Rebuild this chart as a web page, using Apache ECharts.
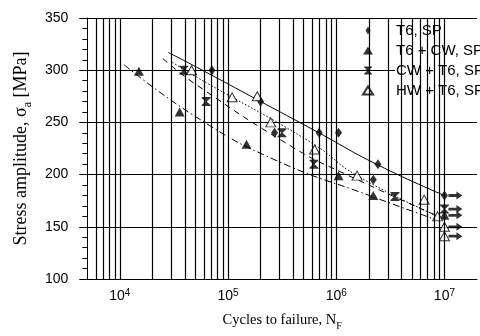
<!DOCTYPE html>
<html>
<head>
<meta charset="utf-8">
<script src="https://cdn.jsdelivr.net/npm/echarts@6/dist/echarts.min.js"></script>
<style>
  html, body { margin: 0; padding: 0; background: #fff; }
  #chart { width: 480px; height: 336px; }
</style>
</head>
<body>
<div id="chart"></div>
<script>
// measured points [cycles, stress MPa]
var t6sp = [[7.1e4, 300], [2.0e5, 270], [2.69e5, 240], [6.95e5, 240], [1.05e6, 240], [2.2e6, 195], [2.43e6, 210], [1e7, 180]];
var t6cw = [[1.5e4, 299], [3.57e4, 260], [1.48e5, 229], [1.05e6, 199], [2.2e6, 180], [1e7, 161]];
var cwt6 = [[3.9e4, 300], [6.27e4, 270], [3.15e5, 240], [6.22e5, 210], [3.49e6, 179], [1e7, 167]];
var hwt6 = [[4.6e4, 300], [1.09e5, 274], [1.86e5, 275], [2.48e5, 250], [6.31e5, 224], [1.56e6, 199], [6.5e6, 176], [8.65e6, 160], [1e7, 150], [1e7, 141]];
// run-outs (arrows)
var runouts = [[1e7, 180], [1e7, 167], [1e7, 161], [1e7, 150], [1e7, 141]];

// fitted curves
var fitT6sp = [[2.8e4, 317], [5.1e4, 303], [2.0e5, 270], [6.0e5, 243.5], [2.45e6, 209], [1e7, 180]];
var fitT6cw = [[1.1e4, 305], [5.1e4, 255], [2.66e5, 214.5], [2.07e6, 179.6], [8.8e6, 156]];
var fitCwt6 = [[2.5e4, 311], [5.1e4, 286], [4.0e5, 226], [1.13e6, 202], [8.8e6, 160]];
var fitHwt6 = [[3.05e4, 307.6], [5.1e4, 293.5], [6.0e5, 230], [1.56e6, 199], [8.7e6, 160]];

var names = ['T6, SP', 'T6 + CW, SP', 'CW + T6, SP', 'HW + T6, SP'];

// log grid lines (1..9 of every decade)
var decades = [1e3, 1e4, 1e5, 1e6, 1e7];
var mults = [1, 2, 3, 4, 5, 6, 7, 8, 9];
var xGrid = [];
decades.forEach(function (d) {
  mults.forEach(function (m) {
    var v = d * m;
    if (v > 5000 && v < 2e7) xGrid.push(v);
  });
});

var hourglass = 'path://M0,0L10,0L10,1L5.7,5L10,9L10,10L0,10L0,9L4.3,5L0,1Z';
var diamond = 'path://M3,0L6,5L3,10L0,5Z';
var arrow = 'path://M0,2.6L8,2.6L8,0L14,4L8,8L8,5.4L0,5.4Z';

var sans = 'Liberation Sans, Arial, sans-serif';
var serif = 'Liberation Serif, Times New Roman, serif';

var chart = echarts.init(document.getElementById('chart'));

function fitLine(data, type) {
  return {
    type: 'line', data: data, smooth: true, symbol: 'none', silent: true,
    lineStyle: { color: '#000', width: 1, type: type }, z: 3
  };
}

var option = {
  animation: false,
  backgroundColor: '#fff',
  grid: { left: 87.3, top: 18, width: 402.4, height: 267 },
  legend: {
    orient: 'vertical', left: 357, top: 18,
    itemWidth: 10, itemHeight: 8, itemGap: 5,
    symbolKeepAspect: true,
    data: [
      { name: names[0], icon: diamond },
      { name: names[1], icon: 'triangle' },
      { name: names[2], icon: hourglass },
      { name: names[3], icon: 'triangle' }
    ],
    formatter: function (n) { return '{g| }{t|' + n + '}'; },
    textStyle: {
      rich: {
        g: { width: 17, fontSize: 15 },
        t: { fontFamily: sans, fontSize: 15, color: '#000', backgroundColor: '#fff', lineHeight: 17, padding: [0, 40, 0, 1] }
      }
    }
  },
  xAxis: {
    type: 'log', logBase: 10, min: 5000, max: 2e7,
    name: '{n|Cycles to failure, N}{s|F}',
    nameLocation: 'middle', nameGap: 34,
    nameTextStyle: {
      rich: {
        n: { fontFamily: serif, fontSize: 14.5, color: '#000' },
        s: { fontFamily: serif, fontSize: 10, color: '#000', verticalAlign: 'bottom', padding: [0, 0, -3, 0] }
      }
    },
    axisLine: { lineStyle: { color: '#000', width: 1 } },
    axisTick: { show: false },
    splitLine: { show: false },
    axisLabel: {
      margin: 9,
      formatter: function (v) {
        var e = Math.log10(v), r = Math.round(e);
        if (Math.abs(e - r) > 1e-6 || r < 4 || r > 7) return '';
        return '{b|10}{s|' + r + '}';
      },
      rich: {
        b: { fontFamily: sans, fontSize: 14, color: '#000' },
        s: { fontFamily: sans, fontSize: 10, color: '#000', verticalAlign: 'bottom', padding: [0, 0, 6, 0] }
      }
    }
  },
  yAxis: {
    type: 'value', min: 100, max: 350, interval: 50,
    name: '{n|Stress amplitude, σ}{s|a}{n| [MPa]}',
    nameLocation: 'middle', nameGap: 53,
    nameTextStyle: {
      rich: {
        n: { fontFamily: serif, fontSize: 18, color: '#000' },
        s: { fontFamily: serif, fontSize: 12, color: '#000', verticalAlign: 'bottom', padding: [0, 0, -4, 0] }
      }
    },
    axisLine: { show: true, lineStyle: { color: '#000', width: 1 } },
    axisTick: { show: true, length: 8, lineStyle: { color: '#000' } },
    minorTick: { show: true, splitNumber: 5, length: 5, lineStyle: { color: '#000' } },
    splitLine: { show: true, lineStyle: { color: '#000', width: 1 } },
    axisLabel: { margin: 19, fontFamily: sans, fontSize: 14, color: '#000' }
  },
  series: [
    {
      name: 'grid', type: 'line', data: [], silent: true, z: 1,
      markLine: {
        silent: true, symbol: ['none', 'none'], label: { show: false },
        lineStyle: { color: '#000', width: 1.2, type: 'solid', opacity: 1 },
        data: xGrid.map(function (v) { return { xAxis: v }; })
      }
    },
    fitLine(fitT6sp, 'solid'),
    fitLine(fitT6cw, [7, 3, 1.5, 3]),
    fitLine(fitCwt6, [6, 5]),
    fitLine(fitHwt6, [1.5, 2]),
    {
      name: names[0], type: 'scatter', data: t6sp, symbol: diamond, symbolSize: [7, 10],
      itemStyle: { color: '#000' }, z: 4
    },
    {
      name: names[1], type: 'scatter', data: t6cw, symbol: 'triangle', symbolSize: [10, 9],
      itemStyle: { color: '#000' }, z: 4
    },
    {
      name: names[2], type: 'scatter', data: cwt6, symbol: hourglass, symbolSize: [9, 9],
      itemStyle: { color: '#000' }, z: 4
    },
    {
      name: names[3], type: 'scatter', data: hwt6, symbol: 'triangle', symbolSize: [10, 9],
      itemStyle: { color: '#fff', borderColor: '#000', borderWidth: 1 }, z: 4
    },
    {
      name: 'runout', type: 'scatter', data: runouts, symbol: arrow, symbolSize: [14, 8],
      symbolOffset: [11, 0], itemStyle: { color: '#000' }, z: 4, silent: true
    }
  ]
};

chart.setOption(option);
</script>
</body>
</html>
